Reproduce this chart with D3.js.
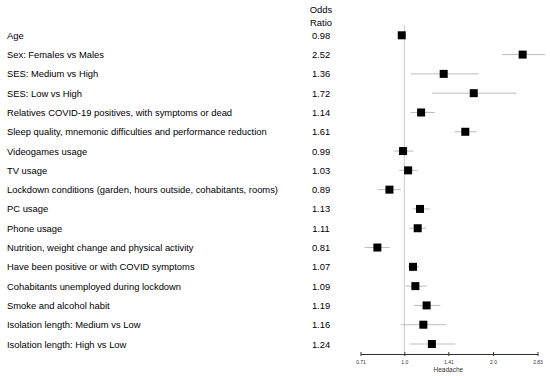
<!DOCTYPE html>
<meta charset="utf-8">
<style>
    body { margin: 0; background: #fff; }
    text { font-family: "Liberation Sans", Arial, sans-serif; fill: #000; }
    .label { font-size: 9.4px; }
    .axis text { font-size: 5px; fill: #333; }
    .axis path, .axis line { stroke: #333; stroke-width: 1; }
</style>
<body>
<script src="https://d3js.org/d3.v7.min.js"></script>
<script>
    var labels = [
        "Age",
        "Sex: Females vs Males",
        "SES: Medium vs High",
        "SES: Low vs High",
        "Relatives COVID-19 positives, with symptoms or dead",
        "Sleep quality, mnemonic difficulties and performance reduction",
        "Videogames usage",
        "TV usage",
        "Lockdown conditions (garden, hours outside, cohabitants, rooms)",
        "PC usage",
        "Phone usage",
        "Nutrition, weight change and physical activity",
        "Have been positive or with COVID symptoms",
        "Cohabitants unemployed during lockdown",
        "Smoke and alcohol habit",
        "Isolation length: Medium vs Low",
        "Isolation length: High vs Low"
    ];
    var oddsRatio = [0.98, 2.52, 1.36, 1.72, 1.14, 1.61, 0.99, 1.03, 0.89, 1.13, 1.11, 0.81, 1.07, 1.09, 1.19, 1.16, 1.24];
    var ciLow  = [0.97, 2.14, 1.05, 1.24, 1.05, 1.48, 0.92, 0.96, 0.81, 1.065, 1.037, 0.734, 1.027, 1.011, 1.077, 0.972, 1.043];
    var ciHigh = [0.99, 3.00, 1.79, 2.40, 1.27, 1.76, 1.073, 1.108, 0.974, 1.22, 1.186, 0.894, 1.123, 1.19, 1.325, 1.39, 1.487];
    var tickValues = [0.71, 1.0, 1.41, 2.0, 2.83];
    var tickLabels = ["0.71", "1.0", "1.41", "2.0", "2.83"];

    var width = 550, height = 376;

    var svg = d3.select("body").append("svg")
        .attr("width", width)
        .attr("height", height);

    var x = d3.scaleLog()
        .domain([0.71, 2.83])
        .range([360.5, 537.5]);

    var y = d3.scalePoint()
        .domain(labels)
        .range([35.3, 344]);

    var orX = 321;

    // header
    svg.append("text").attr("class", "label")
        .attr("x", orX).attr("y", 13).attr("text-anchor", "middle").text("Odds");
    svg.append("text").attr("class", "label")
        .attr("x", orX).attr("y", 26).attr("text-anchor", "middle").text("Ratio");

    // reference line at OR = 1
    svg.append("line")
        .attr("x1", x(1)).attr("x2", x(1))
        .attr("y1", 25).attr("y2", 353)
        .attr("stroke", "#c8c8c8").attr("stroke-width", 1);

    var rows = svg.append("g").selectAll("g")
        .data(labels)
        .join("g");

    rows.append("text").attr("class", "label")
        .attr("x", 7)
        .attr("y", d => y(d) + 3.5)
        .text(d => d);

    rows.append("text").attr("class", "label")
        .attr("x", orX)
        .attr("y", d => y(d) + 3.5)
        .attr("text-anchor", "middle")
        .text((d, i) => oddsRatio[i].toFixed(2));

    rows.append("line")
        .attr("x1", (d, i) => x(ciLow[i]))
        .attr("x2", (d, i) => x(ciHigh[i]))
        .attr("y1", d => y(d))
        .attr("y2", d => y(d))
        .attr("stroke", "#bdbdbd")
        .attr("stroke-width", 1);

    rows.append("rect")
        .attr("x", (d, i) => x(oddsRatio[i]) - 4)
        .attr("y", d => y(d) - 4)
        .attr("width", 8)
        .attr("height", 8)
        .attr("fill", "#000");

    // axis
    var xAxis = d3.axisBottom(x)
        .tickValues(tickValues)
        .tickFormat((d, i) => tickLabels[i])
        .tickSize(3)
        .tickSizeOuter(0);

    var gx = svg.append("g")
        .attr("class", "axis")
        .attr("transform", "translate(0,354)")
        .call(xAxis);
    gx.selectAll(".tick line").attr("y1", -2).attr("y2", 2);
    gx.selectAll(".tick text").attr("y", 6);

    svg.append("text")
        .attr("x", x(1.41)).attr("y", 372)
        .attr("text-anchor", "middle")
        .style("font-size", "6.5px")
        .style("fill", "#333")
        .text("Headache");
</script>
</body>
